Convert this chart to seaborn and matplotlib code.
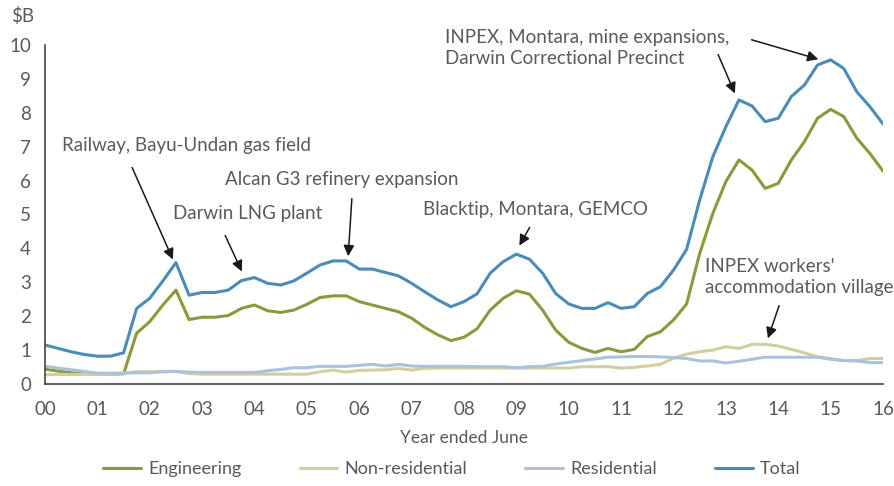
import numpy as np
import pandas as pd
import matplotlib
matplotlib.use("Agg")
import matplotlib.pyplot as plt
import seaborn as sns

# quarterly values, $B, June 2000 .. June 2016
engineering = [0.44, 0.38, 0.33, 0.30, 0.29, 0.29, 0.30, 1.50, 1.84, 2.33, 2.77, 1.90,
               1.97, 1.97, 2.02, 2.23, 2.33, 2.16, 2.11, 2.18, 2.35, 2.55, 2.60,
               2.60, 2.43, 2.33, 2.23, 2.13, 1.94, 1.67, 1.45, 1.28, 1.38, 1.63,
               2.18, 2.53, 2.75, 2.65, 2.18, 1.59, 1.23, 1.05, 0.93, 1.05, 0.95,
               1.02, 1.40, 1.54, 1.89, 2.36, 3.85, 5.03, 5.97, 6.61, 6.31, 5.77,
               5.92, 6.61, 7.15, 7.84, 8.10, 7.89, 7.25, 6.80, 6.28]
non_residential = [0.27, 0.28, 0.28, 0.28, 0.28, 0.29, 0.32, 0.36, 0.36, 0.37, 0.37, 0.31,
                   0.29, 0.29, 0.29, 0.29, 0.29, 0.29, 0.29, 0.29, 0.29, 0.36, 0.41,
                   0.35, 0.40, 0.41, 0.42, 0.46, 0.41, 0.46, 0.47, 0.47, 0.47, 0.47,
                   0.47, 0.47, 0.47, 0.47, 0.47, 0.47, 0.47, 0.51, 0.51, 0.51, 0.47,
                   0.49, 0.53, 0.58, 0.76, 0.88, 0.95, 1.00, 1.10, 1.05, 1.17, 1.17,
                   1.12, 1.02, 0.92, 0.80, 0.75, 0.69, 0.69, 0.75, 0.75]
residential = [0.52, 0.47, 0.42, 0.37, 0.32, 0.32, 0.32, 0.33, 0.33, 0.36, 0.37, 0.35,
               0.34, 0.34, 0.34, 0.34, 0.34, 0.39, 0.43, 0.48, 0.48, 0.52, 0.52,
               0.52, 0.55, 0.58, 0.53, 0.58, 0.53, 0.52, 0.52, 0.52, 0.52, 0.51,
               0.51, 0.51, 0.48, 0.51, 0.52, 0.59, 0.64, 0.69, 0.74, 0.79, 0.80,
               0.81, 0.81, 0.80, 0.78, 0.75, 0.68, 0.68, 0.62, 0.67, 0.73, 0.79,
               0.79, 0.79, 0.79, 0.79, 0.73, 0.69, 0.68, 0.63, 0.63]
total = [1.15, 1.05, 0.95, 0.87, 0.82, 0.82, 0.92, 2.23, 2.53, 3.04, 3.58, 2.62,
         2.70, 2.70, 2.77, 3.05, 3.14, 2.97, 2.92, 3.04, 3.27, 3.51, 3.63,
         3.63, 3.39, 3.39, 3.29, 3.19, 2.97, 2.72, 2.48, 2.28, 2.43, 2.66,
         3.27, 3.61, 3.83, 3.68, 3.27, 2.67, 2.36, 2.23, 2.23, 2.40, 2.23,
         2.28, 2.67, 2.87, 3.36, 3.97, 5.43, 6.70, 7.59, 8.38, 8.20, 7.74,
         7.84, 8.48, 8.82, 9.41, 9.56, 9.31, 8.62, 8.18, 7.67]

years = np.arange(len(total)) / 4
year_labels = ["%02d" % y for y in range(17)]

series = {"Engineering": engineering, "Non-residential": non_residential,
          "Residential": residential, "Total": total}
colors = ["#8f973c", "#d3cea0", "#a9c2de", "#4a8bb9"]

df = pd.concat([pd.DataFrame({"year": years, "value": v, "series": k})
                for k, v in series.items()])

sns.set_style("white")
plt.rcParams["font.family"] = ["Lato", "DejaVu Sans"]
text_col = "#5a5a5a"

fig = plt.figure(figsize=(8.95, 4.86), dpi=100)
ax = fig.add_axes([0.0503, 0.2099, 0.9363, 0.6975])

sns.lineplot(data=df, x="year", y="value", hue="series", palette=colors,
             linewidth=2.2, ax=ax, legend=False)

ax.set_xlim(0, 16)
ax.set_ylim(0, 10)
ax.set_xticks(range(17))
ax.set_xticklabels(year_labels)
ax.set_yticks(range(11))
ax.tick_params(length=0, labelsize=13.5, colors=text_col)
ax.tick_params(axis="x", pad=12)
ax.tick_params(axis="y", pad=10)
for s in ["top", "right"]:
    ax.spines[s].set_visible(False)
for s in ["left", "bottom"]:
    ax.spines[s].set_color("#444444")
    ax.spines[s].set_linewidth(1.2)
ax.set_xlabel("Year ended June", fontsize=12.5, color=text_col, labelpad=9)
ax.set_ylabel("")
fig.text(0.012, 0.955, "$B", fontsize=13.5, color=text_col)

# annotations
arrow = dict(arrowstyle="-|>", color="#1a1a1a", lw=1.1, mutation_scale=16)


def xpx(p):
    return (p - 45) / 838 * 16


def ypx(p):
    return (384 - p) / 33.9


def label(txt, x, y):
    ax.annotate(txt, xy=(0, 0), xytext=(xpx(x), ypx(y)), fontsize=13.5, color=text_col,
                va="center", ha="left", linespacing=1.25, annotation_clip=False)


def pointer(tip, tail):
    ax.annotate("", xy=(xpx(tip[0]), ypx(tip[1])), xytext=(xpx(tail[0]), ypx(tail[1])),
                arrowprops=arrow, annotation_clip=False)


label("Railway, Bayu-Undan gas field", 62, 146)
pointer((174, 262), (131, 165))
label("Alcan G3 refinery expansion", 225, 180)
pointer((348, 259), (352, 196))
label("Darwin LNG plant", 173, 214)
pointer((243, 274), (224, 233))
label("Blacktip, Montara, GEMCO", 423, 210)
pointer((518, 248), (531, 225))
label("INPEX, Montara, mine expansions,\nDarwin Correctional Precinct", 445, 48)
pointer((736, 96), (717, 52))
pointer((821, 60), (749, 39))
label("INPEX workers'\naccommodation village", 705, 277)
pointer((767, 341), (780, 303))

handles = [plt.Line2D([], [], color=c, lw=2.2) for c in colors]
fig.legend(handles, list(series.keys()), loc="lower center", bbox_to_anchor=(0.505, -0.015),
           ncol=4, frameon=False, fontsize=13, labelcolor=text_col, handlelength=2.1,
           handletextpad=0.4, columnspacing=3.2)

fig.savefig("out.png", dpi=100)
